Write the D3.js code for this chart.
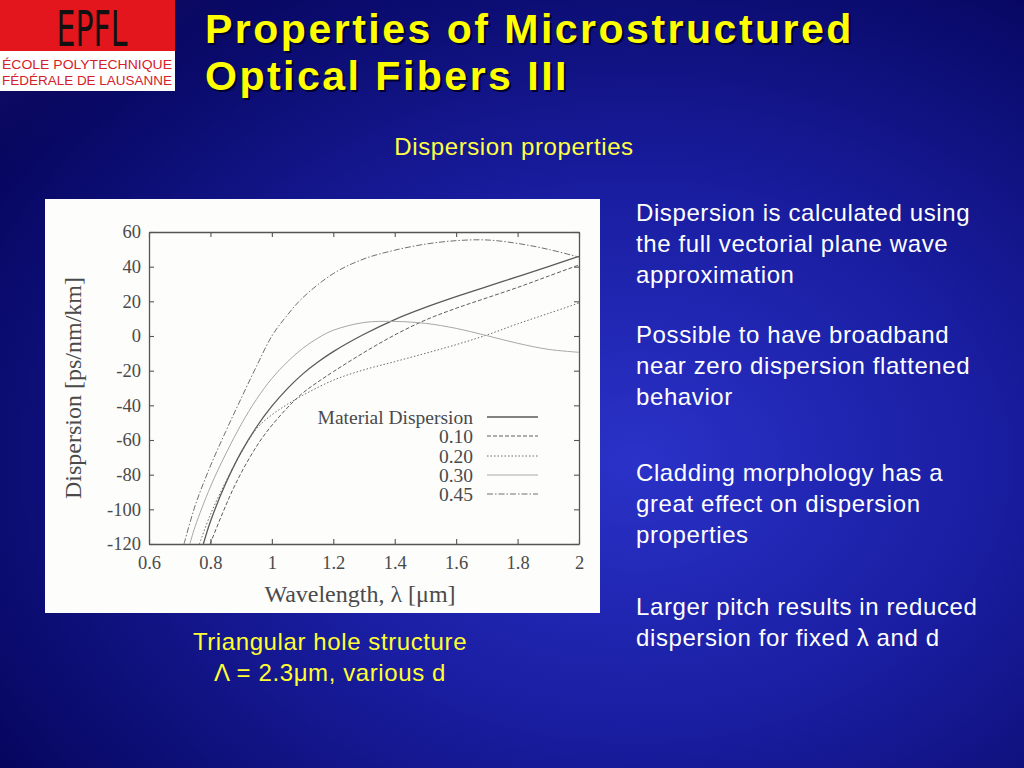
<!DOCTYPE html>
<html><head><meta charset="utf-8">
<script src="https://cdn.jsdelivr.net/npm/d3@7/dist/d3.min.js"></script>
<style>html,body{margin:0;padding:0;background:#06065a;overflow:hidden}svg{display:block}</style>
</head><body>
<svg id="c" width="1024" height="768"></svg>
<script>
// ---- data ----
const xTicks = [0.6, 0.8, 1, 1.2, 1.4, 1.6, 1.8, 2];
const yTicks = [60, 40, 20, 0, -20, -40, -60, -80, -100, -120];
const seriesNames = ["Material Dispersion", "0.10", "0.20", "0.30", "0.45"];

const matWl = [0.777, 0.8, 0.85, 0.9, 0.95, 1.0, 1.05, 1.1, 1.15, 1.2, 1.3, 1.4, 1.5, 1.6, 1.7, 1.8, 1.9, 2.0];
const matD  = [-120, -107, -85, -67, -52.5, -40.5, -30.5, -22, -15, -9, 1, 9.5, 16.5, 22.7, 28.5, 34.2, 40, 46];

const d10Wl = [0.799, 0.84, 0.88, 0.93, 0.978, 1.05, 1.1, 1.15, 1.2, 1.3, 1.4, 1.5, 1.6, 1.7, 1.8, 1.9, 2.0];
const d10D  = [-120, -102, -86, -69.5, -56.5, -41.5, -33, -26.5, -20.6, -9.5, 0.6, 9.2, 16, 22, 28, 34.5, 41];

const d20Wl = [0.764, 0.8, 0.85, 0.9, 0.95, 1.0, 1.05, 1.1, 1.2, 1.3, 1.4, 1.5, 1.6, 1.7, 1.8, 1.9, 2.0];
const d20D  = [-120, -103, -84, -67.5, -53.5, -45.5, -39.5, -34.3, -25.5, -19.5, -14.8, -10, -5, 0.6, 7, 13, 19];

const d30Wl = [0.733, 0.75, 0.8, 0.85, 0.9, 0.95, 1.0, 1.05, 1.1, 1.15, 1.2, 1.3, 1.4, 1.5, 1.6, 1.7, 1.8, 1.9, 2.0];
const d30D  = [-120, -110, -87, -68, -51, -36.5, -24.5, -15, -7.2, -1.2, 3.3, 7.8, 8.4, 7.3, 4.4, 0.2, -4.2, -7.7, -9.4];

const d45Wl = [0.714, 0.75, 0.8, 0.85, 0.9, 0.95, 1.0, 1.05, 1.1, 1.2, 1.3, 1.4, 1.5, 1.6, 1.7, 1.8, 1.9, 2.0];
const d45D  = [-120, -98, -75, -55, -36, -17.5, 0, 12, 22, 36, 44.5, 49.5, 53, 55, 55.4, 53.4, 50, 45.5];

const bulletLines = [
  ["Dispersion is calculated using", "the full vectorial plane wave", "approximation"],
  ["Possible to have broadband", "near zero dispersion flattened", "behavior"],
  ["Cladding morphology has a", "great effect on dispersion", "properties"],
  ["Larger pitch results in reduced", "dispersion for fixed \u03bb and d"]
];

// ---- drawing ----
const svg = d3.select("#c");
const defs = svg.append("defs");
const rg = defs.append("radialGradient").attr("id","bg").attr("cx","0.62").attr("cy","0.6").attr("r","0.75");
rg.append("stop").attr("offset","0").attr("stop-color","#2a32c8");
rg.append("stop").attr("offset","0.45").attr("stop-color","#1a1ea2");
rg.append("stop").attr("offset","1").attr("stop-color","#05055c");
svg.append("rect").attr("width",1024).attr("height",768).attr("fill","url(#bg)");
const lg = defs.append("linearGradient").attr("id","glow").attr("x1","0").attr("y1","0").attr("x2","1").attr("y2","1");
lg.append("stop").attr("offset","0").attr("stop-color","#5a3a9a").attr("stop-opacity","0.3");
lg.append("stop").attr("offset","0.35").attr("stop-color","#2a1a80").attr("stop-opacity","0");
svg.append("rect").attr("width",420).attr("height",260).attr("fill","url(#glow)");

// logo
const logo = svg.append("g");
logo.append("rect").attr("x",0).attr("y",0).attr("width",175).attr("height",91).attr("fill","#ffffff");
logo.append("rect").attr("x",0).attr("y",0).attr("width",175).attr("height",51).attr("fill","#e3161e");
logo.append("text").attr("transform","translate(92,46) scale(0.68,1.15)").attr("text-anchor","middle")
  .attr("font-family","DejaVu Sans").attr("font-size",44).attr("fill","#111").text("EPFL");
logo.append("text").attr("x",87).attr("y",69).attr("text-anchor","middle").attr("font-family","Liberation Sans")
  .attr("font-size",12.5).attr("fill","#d5202a").attr("textLength",170).attr("lengthAdjust","spacingAndGlyphs").text("ÉCOLE POLYTECHNIQUE");
logo.append("text").attr("x",87).attr("y",85).attr("text-anchor","middle").attr("font-family","Liberation Sans")
  .attr("font-size",12.5).attr("fill","#d5202a").attr("textLength",170).attr("lengthAdjust","spacingAndGlyphs").text("FÉDÉRALE DE LAUSANNE");

// title
const titleLines = ["Properties of Microstructured", "Optical Fibers III"];
const tb = [43, 90];
titleLines.forEach((t,i)=>{
  svg.append("text").attr("x",207).attr("y",tb[i]+2).attr("font-family","Liberation Sans").attr("font-weight","bold")
    .attr("font-size",41).attr("letter-spacing","2.5px").attr("fill","#000030").text(t);
  svg.append("text").attr("x",205).attr("y",tb[i]).attr("font-family","Liberation Sans").attr("font-weight","bold")
    .attr("font-size",41).attr("letter-spacing","2.5px").attr("fill","#ffff00").text(t);
});
svg.append("text").attr("x",514).attr("y",155).attr("text-anchor","middle").attr("font-family","Liberation Sans")
  .attr("font-size",24).attr("letter-spacing","0.6px").attr("fill","#ffff44").text("Dispersion properties");

// chart panel
svg.append("rect").attr("x",45).attr("y",199).attr("width",555).attr("height",414).attr("fill","#fdfdfc");

const L = 149, R = 579, T = 232, B = 544;
const x = d3.scaleLinear().domain([0.6, 2]).range([L, R]);
const y = d3.scaleLinear().domain([-120, 60]).range([B, T]);
const axisCol = "#555";
const tickFmt = d => String(d);

const gx = svg.append("g").attr("transform",`translate(0,${B})`)
  .call(d3.axisBottom(x).tickValues(xTicks).tickSize(-5).tickSizeOuter(0).tickPadding(12).tickFormat(tickFmt));
const gxt = svg.append("g").attr("transform",`translate(0,${T})`)
  .call(d3.axisTop(x).tickValues(xTicks).tickSize(-5).tickSizeOuter(0).tickFormat(""));
const gy = svg.append("g").attr("transform",`translate(${L},0)`)
  .call(d3.axisLeft(y).tickValues(yTicks).tickSize(-5).tickSizeOuter(0).tickPadding(8).tickFormat(tickFmt));
const gyr = svg.append("g").attr("transform",`translate(${R},0)`)
  .call(d3.axisRight(y).tickValues(yTicks).tickSize(-5).tickSizeOuter(0).tickFormat(""));
[gx,gxt,gy,gyr].forEach(g=>{
  g.select(".domain").attr("stroke",axisCol).attr("stroke-width",1.3);
  g.selectAll(".tick line").attr("stroke",axisCol).attr("stroke-width",1.1);
  g.selectAll("text").attr("font-family","Liberation Serif").attr("font-size",18.5).attr("fill","#4a4a4a");
});

svg.append("text").attr("transform",`translate(81,${(T+B)/2}) rotate(-90)`).attr("text-anchor","middle")
  .attr("font-family","Liberation Serif").attr("font-size",24).attr("fill","#4a4a4a").text("Dispersion [ps/nm/km]");
svg.append("text").attr("x",(L+R)/2 - 4).attr("y",602).attr("text-anchor","middle")
  .attr("font-family","Liberation Serif").attr("font-size",24).attr("fill","#4a4a4a").text("Wavelength, \u03bb [\u03bcm]");

// curves
defs.append("clipPath").attr("id","clip").append("rect").attr("x",L).attr("y",T).attr("width",R-L).attr("height",B-T);
const seriesData = [
  {name: seriesNames[0], wl: matWl, d: matD, color:"#5a5a5a", w:1.3, dash:null},
  {name: seriesNames[1], wl: d10Wl, d: d10D, color:"#5e5e5e", w:1.0, dash:"4,2"},
  {name: seriesNames[2], wl: d20Wl, d: d20D, color:"#6a6a6a", w:1.0, dash:"1.5,2"},
  {name: seriesNames[3], wl: d30Wl, d: d30D, color:"#a8a8a8", w:1.0, dash:null},
  {name: seriesNames[4], wl: d45Wl, d: d45D, color:"#707070", w:1.0, dash:"6,2,1.5,2"}
];
const line = d3.line().x(p=>x(p[0])).y(p=>y(p[1])).curve(d3.curveCatmullRom.alpha(0.5));
const cg = svg.append("g").attr("clip-path","url(#clip)");
seriesData.forEach(s=>{
  cg.append("path").attr("d", line(s.wl.map((v,i)=>[v, s.d[i]])))
    .attr("fill","none").attr("stroke",s.color).attr("stroke-width",s.w)
    .attr("stroke-dasharray",s.dash);
});

// legend
const legRows = [417, 436, 456, 475, 494];
seriesData.forEach((s,i)=>{
  svg.append("text").attr("x",473).attr("y",legRows[i]).attr("dy","0.35em").attr("text-anchor","end")
    .attr("font-family","Liberation Serif").attr("font-size",19.5).attr("fill","#4a4a4a").text(s.name);
  svg.append("line").attr("x1",487).attr("x2",538).attr("y1",legRows[i]).attr("y2",legRows[i])
    .attr("stroke",s.color).attr("stroke-width",s.w).attr("stroke-dasharray",s.dash);
});

// caption
svg.append("text").attr("x",330).attr("y",650).attr("text-anchor","middle").attr("font-family","Liberation Sans")
  .attr("font-size",24).attr("letter-spacing","0.6px").attr("fill","#ffff33").text("Triangular hole structure");
svg.append("text").attr("x",330).attr("y",681).attr("text-anchor","middle").attr("font-family","Liberation Sans")
  .attr("font-size",24).attr("letter-spacing","0.6px").attr("fill","#ffff33").text("\u039b = 2.3\u03bcm, various d");

// bullets
const paraTop = [221, 343, 481, 615];
bulletLines.forEach((para,pi)=>{
  para.forEach((ln,li)=>{
    svg.append("text").attr("x",636).attr("y",paraTop[pi]+li*31).attr("font-family","Liberation Sans")
      .attr("font-size",24).attr("letter-spacing","0.6px").attr("fill","#ffffff").text(ln);
  });
});
</script>
</body></html>
